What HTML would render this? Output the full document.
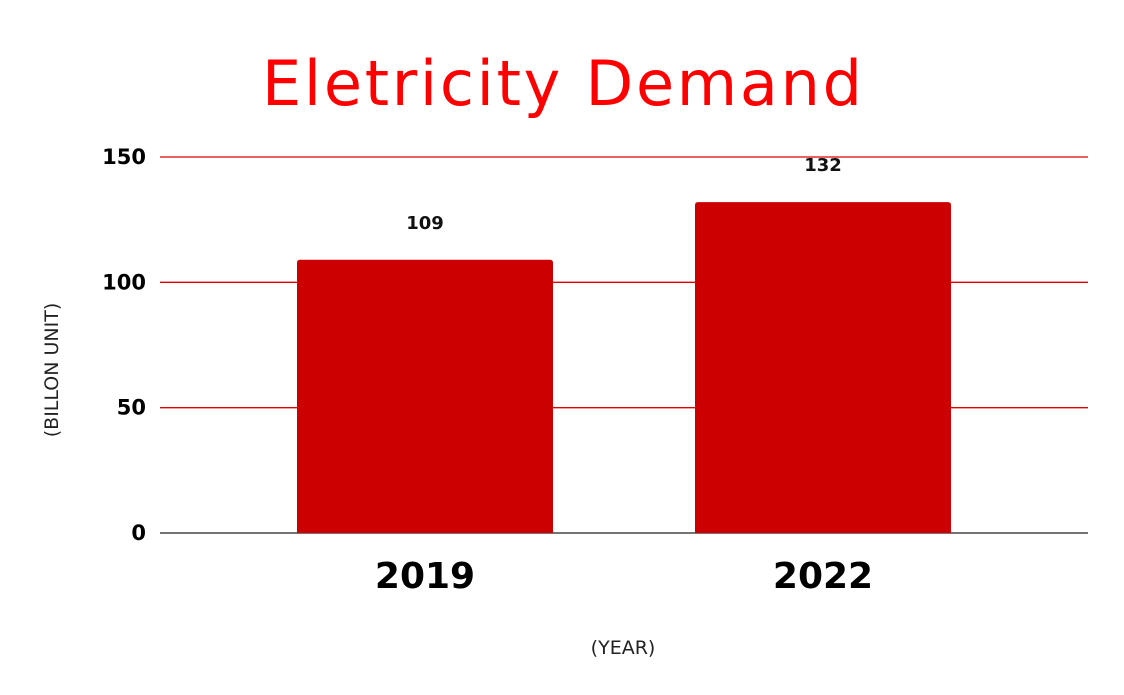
<!DOCTYPE html>
<html><head><meta charset="utf-8"><style>
body{margin:0;background:#fff;}
svg{display:block;font-family:"DejaVu Sans","Liberation Sans",sans-serif;}
</style></head><body>
<svg id="chart" width="1124" height="695">
<text x="562" y="105" text-anchor="middle" font-size="62" textLength="600" lengthAdjust="spacing" fill="#ff0000">Eletricity Demand</text>
<g id="grid"></g><g id="bars"></g>
<text transform="translate(58,370) rotate(-90)" text-anchor="middle" font-size="19" fill="#222">(BILLON UNIT)</text>
<text x="623" y="654" text-anchor="middle" font-size="19" fill="#222">(YEAR)</text>
</svg>
<script>
const categories=["2019","2022"];
const values=[109,132];
const ticks=[0,50,100,150];
const NS="http://www.w3.org/2000/svg";
const x0=160,x1=1088,yBase=533,yTop=157,yMax=150,pad=265;
const y=v=>yBase-(v/yMax)*(yBase-yTop);
const step=(x1-x0-2*pad)/Math.max(1,categories.length-1);
const bx=i=>x0+pad+step*i;
const grid=document.getElementById('grid'),bars=document.getElementById('bars');
function mk(t,a,p){const e=document.createElementNS(NS,t);for(const k in a)e.setAttribute(k,a[k]);p.appendChild(e);return e;}
ticks.forEach(t=>{
 const l=mk('line',{x1:x0,x2:x1,y1:y(t),y2:y(t),stroke:t===0?'#222':'#e00000','stroke-width':1.3},grid);
 
 
 const tx=mk('text',{x:146,y:y(t)+7,'text-anchor':'end','font-size':21,'font-weight':'bold',fill:'#000'},grid);
 tx.textContent=t;
 
 
});
categories.forEach((c,i)=>{
 const w=256,cx=bx(i);
 const r=mk('path',{d:`M${cx-w/2},${yBase} V${y(values[i])+3} Q${cx-w/2},${y(values[i])} ${cx-w/2+3},${y(values[i])} H${cx+w/2-3} Q${cx+w/2},${y(values[i])} ${cx+w/2},${y(values[i])+3} V${yBase} Z`,fill:'#cc0000'},bars);
 
 
 const v=mk('text',{x:cx,y:y(values[i])-31,'text-anchor':'middle','font-size':18,'font-weight':'bold',fill:'#111'},bars);
 v.textContent=values[i];
 
 
 const xl=mk('text',{x:cx,y:588,'text-anchor':'middle','font-size':36,'font-weight':'bold',fill:'#000'},bars);
 xl.textContent=c;
 
 
});
</script>
</body></html>
